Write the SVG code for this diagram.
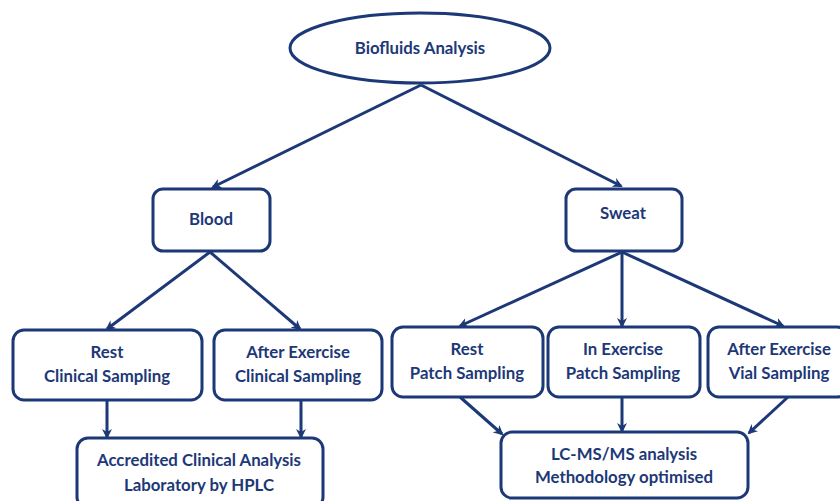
<svg xmlns="http://www.w3.org/2000/svg" width="840" height="501" viewBox="0 0 840 501">
<defs>
<marker id="ah" markerWidth="10" markerHeight="10" refX="8" refY="5" orient="auto" markerUnits="userSpaceOnUse">
<path d="M0,0 L10,5 L0,10 L3,5 Z" fill="#1d3877"/>
</marker>
<style>
.box{fill:#fff;stroke:#1d3877;stroke-width:3}
.t{font-family:Lato,"Open Sans",sans-serif;font-weight:bold;font-size:16.8px;fill:#1d3877;text-anchor:middle}
.c{stroke:#1d3877;stroke-width:3;fill:none;marker-end:url(#ah)}
</style>
</defs>
<rect width="840" height="501" fill="#fff"/>
<g id="connectors">
<line class="c" x1="421" y1="85" x2="213" y2="187"/>
<line class="c" x1="421" y1="85" x2="621" y2="186"/>
<line class="c" x1="210" y1="252" x2="107" y2="329"/>
<line class="c" x1="210" y1="252" x2="300" y2="329"/>
<line class="c" x1="622" y1="252" x2="460" y2="326"/>
<line class="c" x1="622" y1="252" x2="622" y2="326"/>
<line class="c" x1="622" y1="252" x2="783" y2="326"/>
<line class="c" x1="107" y1="400" x2="107" y2="437"/>
<line class="c" x1="301" y1="400" x2="301" y2="437"/>
<line class="c" x1="460" y1="397" x2="502" y2="434"/>
<line class="c" x1="622" y1="397" x2="622" y2="431"/>
<line class="c" x1="788" y1="397" x2="749" y2="433"/>
</g>
<g id="biofluids">
<ellipse class="box" cx="420" cy="48" rx="130" ry="35"/>
<text class="t" x="420" y="54">Biofluids Analysis</text>
</g>
<g id="blood">
<rect class="box" x="153" y="189" width="117" height="62" rx="10"/>
<text class="t" x="211" y="225">Blood</text>
</g>
<g id="sweat">
<rect class="box" x="566" y="189" width="116" height="62" rx="10"/>
<text class="t" x="623" y="219">Sweat</text>
</g>
<g id="rest-clinical">
<rect class="box" x="13" y="330" width="189" height="70" rx="11"/>
<text class="t" x="107" y="358">Rest</text>
<text class="t" x="107" y="382">Clinical Sampling</text>
</g>
<g id="after-clinical">
<rect class="box" x="214" y="330" width="168" height="70" rx="11"/>
<text class="t" x="298" y="358">After Exercise</text>
<text class="t" x="298" y="382">Clinical Sampling</text>
</g>
<g id="accredited">
<rect class="box" x="77" y="438" width="246" height="70" rx="11"/>
<text class="t" x="199" y="466">Accredited Clinical Analysis</text>
<text class="t" x="199" y="491">Laboratory by HPLC</text>
</g>
<g id="rest-patch">
<rect class="box" x="392" y="327" width="151" height="70" rx="11"/>
<text class="t" x="467" y="355">Rest</text>
<text class="t" x="467" y="379">Patch Sampling</text>
</g>
<g id="in-exercise">
<rect class="box" x="548" y="327" width="152" height="70" rx="11"/>
<text class="t" x="623" y="355">In Exercise</text>
<text class="t" x="623" y="379">Patch Sampling</text>
</g>
<g id="after-vial">
<rect class="box" x="708" y="327" width="140" height="70" rx="11"/>
<text class="t" x="779" y="355">After Exercise</text>
<text class="t" x="779" y="379">Vial Sampling</text>
</g>
<g id="lcms">
<rect class="box" x="501" y="432" width="247" height="66" rx="11"/>
<text class="t" x="624" y="460">LC-MS/MS analysis</text>
<text class="t" x="624" y="483">Methodology optimised</text>
</g>
</svg>
